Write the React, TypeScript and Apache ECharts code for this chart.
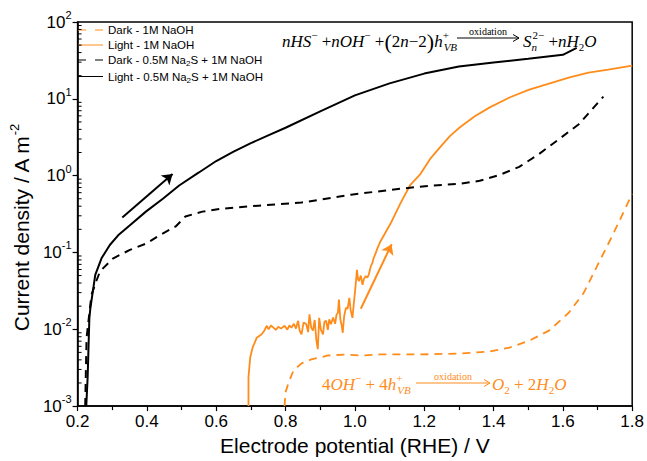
import React, { useEffect, useRef } from "react";
import * as echarts from "echarts";

const ORANGE = "#ff8c1a";

const seriesNames = [
  "Dark - 1M NaOH",
  "Light - 1M NaOH",
  "Dark - 0.5M Na2S + 1M NaOH",
  "Light - 0.5M Na2S + 1M NaOH",
];

const darkNaOH: [number, number][] = [
  [0.797, 0.001], [0.8, 0.00152], [0.809, 0.00204], [0.823, 0.00292], [0.846, 0.0036],
  [0.874, 0.00405], [0.923, 0.00456], [0.974, 0.0047], [1.017, 0.00456], [1.074, 0.0047],
  [1.189, 0.0047], [1.303, 0.00484], [1.389, 0.00514], [1.446, 0.00578], [1.503, 0.0071],
  [1.56, 0.0096], [1.617, 0.0164], [1.66, 0.0297], [1.703, 0.0725], [1.746, 0.177], [1.8, 0.58],
];

const lightNaOH: [number, number][] = [
  [0.693, 0.001], [0.693, 0.00237], [0.698, 0.0043], [0.705, 0.00578], [0.717, 0.00778],
  [0.731, 0.0086], [0.738, 0.0095], [0.746, 0.0111], [0.751, 0.00998], [0.758, 0.0112],
  [0.765, 0.0105], [0.772, 0.0098], [0.779, 0.0108], [0.787, 0.0102], [0.797, 0.0111],
  [0.805, 0.0099], [0.811, 0.0112], [0.817, 0.0105], [0.824, 0.0118], [0.83, 0.0102],
  [0.836, 0.0129], [0.841, 0.0095], [0.846, 0.0086], [0.852, 0.0123], [0.86, 0.0116],
  [0.865, 0.0092], [0.869, 0.0156], [0.874, 0.0105], [0.879, 0.0096], [0.884, 0.0132],
  [0.889, 0.0071], [0.893, 0.0055], [0.897, 0.0141], [0.902, 0.0098], [0.908, 0.0086],
  [0.912, 0.0125], [0.917, 0.0129], [0.922, 0.0098], [0.926, 0.0135], [0.931, 0.0116],
  [0.937, 0.0142], [0.943, 0.0118], [0.947, 0.0155], [0.951, 0.0164], [0.954, 0.0243],
  [0.958, 0.0135], [0.962, 0.0112], [0.965, 0.009], [0.969, 0.0148], [0.974, 0.019],
  [0.979, 0.0185], [0.984, 0.0256], [0.988, 0.0175], [0.993, 0.0141], [0.997, 0.022],
  [1.001, 0.033], [1.006, 0.0594], [1.009, 0.045], [1.012, 0.0425], [1.017, 0.05],
  [1.022, 0.038], [1.026, 0.045], [1.031, 0.0493], [1.036, 0.047], [1.04, 0.0513],
  [1.046, 0.0664], [1.05, 0.072], [1.054, 0.084], [1.06, 0.098], [1.065, 0.113],
  [1.074, 0.14], [1.103, 0.238], [1.131, 0.432], [1.16, 0.76], [1.189, 1.05],
  [1.217, 1.65], [1.246, 2.35], [1.274, 3.27], [1.303, 4.27], [1.346, 5.93],
  [1.389, 7.74], [1.446, 10.4], [1.503, 13.2], [1.56, 15.8], [1.617, 18.9],
  [1.674, 21.9], [1.731, 24], [1.8, 27],
];

const darkNa2S: [number, number][] = [
  [0.222, 0.001], [0.224, 0.003], [0.226, 0.0078], [0.24, 0.028], [0.254, 0.0425],
  [0.265, 0.057], [0.303, 0.084], [0.351, 0.108], [0.397, 0.13], [0.436, 0.167],
  [0.483, 0.218], [0.511, 0.294], [0.56, 0.34], [0.617, 0.372], [0.722, 0.407],
  [0.846, 0.446], [0.989, 0.565], [1.131, 0.676], [1.217, 0.738], [1.303, 0.783],
  [1.36, 0.857], [1.417, 1.02], [1.474, 1.3], [1.531, 1.91], [1.589, 2.99],
  [1.646, 4.67], [1.717, 10.7],
];

const lightNa2S: [number, number][] = [
  [0.225, 0.001], [0.229, 0.00237], [0.234, 0.0141], [0.237, 0.019], [0.251, 0.051],
  [0.269, 0.084], [0.293, 0.125], [0.317, 0.167], [0.351, 0.226], [0.397, 0.34],
  [0.446, 0.5], [0.493, 0.745], [0.55, 1.1], [0.6, 1.55], [0.65, 2.05], [0.7, 2.65],
  [0.75, 3.35], [0.8, 4.2], [0.9, 6.87], [1.0, 11.1], [1.1, 15.9], [1.2, 21.3], [1.3, 26.3],
  [1.4, 29.6], [1.5, 33.2], [1.6, 37.4], [1.64, 46],
];

// scan-direction arrows (data coordinates)
const blackArrow: [number, number][] = [[0.329, 0.285], [0.474, 1.05]];
const orangeArrow: [number, number][] = [[1.017, 0.0185], [1.106, 0.128]];

const xMin = 0.2;
const xMax = 1.8;
const xInterval = 0.2;
const yMin = 0.001;
const yMax = 100;
const decades = [0.001, 0.01, 0.1, 1, 10];
const minorMultipliers = [2, 3, 4, 5, 6, 7, 8, 9];

const SANS = "Liberation Sans";
const SERIF = "Liberation Serif";

const DASH_ICON = "path://M0,0H8V1H0ZM17,0H25V1H17Z";
const SOLID_ICON = "path://M0,0H25V1H0Z";

function eqRich(color: string) {
  return {
    i: { fontFamily: SERIF, fontStyle: "italic", fontSize: 17, fill: color, align: "left" },
    r: { fontFamily: SERIF, fontSize: 17, fill: color, align: "left" },
    p: { fontFamily: SERIF, fontSize: 22, fill: color, align: "left" },
    sp: { fontFamily: SERIF, fontSize: 11, fill: color, padding: [0, 0, 13, 0], align: "left" },
    spw: { fontFamily: SERIF, fontSize: 11, fill: color, padding: [0, 0, 13, 0], width: 1, align: "left" },
    sb: { fontFamily: SERIF, fontStyle: "italic", fontSize: 11, fill: color, padding: [12, 0, 0, 0], align: "left" },
    sbw: { fontFamily: SERIF, fontStyle: "italic", fontSize: 11, fill: color, padding: [12, 0, 0, 0], width: 1, align: "left" },
    sbr: { fontFamily: SERIF, fontSize: 11, fill: color, padding: [12, 0, 0, 0], align: "left" },
  };
}

function arrowGraphic(x1: number, x2: number, y: number, color: string, labelY: number) {
  return [
    { type: "line", shape: { x1, y1: y, x2, y2: y }, style: { stroke: color, lineWidth: 1 } },
    {
      type: "polyline",
      shape: { points: [[x2 - 6, y - 3.5], [x2, y], [x2 - 6, y + 3.5]] },
      style: { stroke: color, lineWidth: 1, fill: "none" },
    },
    {
      type: "text",
      x: (x1 + x2) / 2,
      y: labelY,
      style: { text: "oxidation", fill: color, font: `10px "${SERIF}"`, align: "center", verticalAlign: "middle" },
    },
  ];
}

export default function App() {
  const ref = useRef<HTMLDivElement>(null);
  useEffect(() => {
    if (!ref.current) return;
    const chart = echarts.init(ref.current, undefined, { renderer: "svg" });

    const minorTicks: [number, number][] = [];
    decades.forEach((d) => minorMultipliers.forEach((m) => minorTicks.push([xMin, d * m])));

    const lineSeries = (name: string, data: [number, number][], color: string, dashed: boolean, width: number) => ({
      name,
      type: "line",
      data,
      symbol: "none",
      showSymbol: false,
      lineStyle: { color, width, type: dashed ? [8, 6] : "solid" },
      itemStyle: { color },
      z: 3,
    });

    const topRich = eqRich("#000");
    const botRich = eqRich(ORANGE);

    const option: any = {
      animation: false,
      backgroundColor: "#fff",
      grid: {
        left: 74, right: 13, top: 22, bottom: 52,
        show: true, borderColor: "#000", borderWidth: 1.5, backgroundColor: "transparent",
      },
      legend: {
        data: [
          { name: seriesNames[0], icon: DASH_ICON },
          { name: seriesNames[1], icon: SOLID_ICON },
          { name: seriesNames[2], icon: DASH_ICON },
          { name: seriesNames[3], icon: SOLID_ICON },
        ],
        orient: "vertical",
        left: 78,
        top: 24,
        padding: 0,
        itemWidth: 25,
        itemHeight: 2,
        itemGap: 3,
        selectedMode: false,
        itemStyle: { borderWidth: 0 },
        lineStyle: { width: 0 },
        textStyle: {
          fontFamily: SANS, fontSize: 11.5, color: "#000", padding: [0, 0, 0, 0],
          rich: { sub: { fontFamily: SANS, fontSize: 8, color: "#000", padding: [7, 0, 0, 0] } },
        },
        formatter: (name: string) => name.replace("Na2S", "Na{sub|2}S"),
      },
      xAxis: {
        type: "value",
        min: xMin,
        max: xMax,
        interval: xInterval,
        name: "Electrode potential (RHE) / V",
        nameLocation: "middle",
        nameGap: 26,
        nameTextStyle: { fontFamily: SANS, fontSize: 21, color: "#000" },
        axisLine: { show: true, lineStyle: { color: "#000", width: 1.5 } },
        axisTick: { show: true, length: 5, lineStyle: { color: "#000", width: 1.2 } },
        minorTick: { show: true, splitNumber: 2, length: 4, lineStyle: { color: "#000", width: 1.2 } },
        splitLine: { show: false },
        axisLabel: {
          fontFamily: SANS, fontSize: 17, color: "#000", margin: 7,
          formatter: (v: number) => v.toFixed(1),
        },
      },
      yAxis: {
        type: "log",
        logBase: 10,
        min: yMin,
        max: yMax,
        name: "{n|Current density / A m}{s|-2}",
        nameLocation: "middle",
        nameGap: 27,
        nameRotate: 90,
        nameTextStyle: {
          padding: [0, 28, 0, 0],
          rich: {
            n: { fontFamily: SANS, fontSize: 21, color: "#000" },
            s: { fontFamily: SANS, fontSize: 13, color: "#000", padding: [0, 0, 14, 0] },
          },
        },
        axisLine: { show: true, lineStyle: { color: "#000", width: 1.5 } },
        axisTick: { show: true, length: 5, lineStyle: { color: "#000", width: 1.2 } },
        splitLine: { show: false },
        axisLabel: {
          margin: 6,
          formatter: (v: number) => `{b|10}{s|${Math.round(Math.log10(v))}}`,
          rich: {
            b: { fontFamily: SANS, fontSize: 17, color: "#000" },
            s: { fontFamily: SANS, fontSize: 11, color: "#000", padding: [0, 0, 14, 0] },
          },
        },
      },
      series: [
        lineSeries(seriesNames[0], darkNaOH, ORANGE, true, 1.8),
        lineSeries(seriesNames[1], lightNaOH, ORANGE, false, 1.8),
        lineSeries(seriesNames[2], darkNa2S, "#000", true, 2),
        lineSeries(seriesNames[3], lightNa2S, "#000", false, 2),
        {
          type: "lines",
          coordinateSystem: "cartesian2d",
          symbol: ["none", "arrow"],
          symbolSize: 10,
          silent: true,
          data: [
            { coords: blackArrow, lineStyle: { color: "#000", width: 2, opacity: 1 } },
            { coords: orangeArrow, lineStyle: { color: ORANGE, width: 2, opacity: 1 } },
          ],
          lineStyle: { opacity: 1 },
          z: 4,
        },
        {
          type: "custom",
          silent: true,
          clip: false,
          data: minorTicks,
          renderItem: (_p: any, api: any) => {
            const p = api.coord([api.value(0), api.value(1)]);
            return {
              type: "line",
              shape: { x1: p[0], y1: p[1], x2: p[0] + 4, y2: p[1] },
              style: { stroke: "#000", lineWidth: 1 },
            };
          },
          z: 5,
        },
      ],
      graphic: [
        {
          type: "text",
          x: 282,
          y: 41,
          style: {
            text: "{i|nHS}{sp|−}{r| +}{i|nOH}{sp|−}{r| +}{p|(}{r|2}{i|n}{r|−2}{p|)}{i|h}{spw|+}{sb|VB}",
            rich: topRich,
            align: "left",
            verticalAlign: "middle",
          },
        },
        ...arrowGraphic(457, 519, 38, "#000", 31),
        {
          type: "text",
          x: 523,
          y: 41,
          style: {
            text: "{i|S}{sbw|n}{sp|2−}{r| +}{i|nH}{sbr|2}{i|O}",
            rich: topRich,
            align: "left",
            verticalAlign: "middle",
          },
        },
        {
          type: "text",
          x: 322,
          y: 384,
          style: {
            text: "{r|4}{i|OH}{sp|−}{r| + 4}{i|h}{spw|+}{sb|VB}",
            rich: botRich,
            align: "left",
            verticalAlign: "middle",
          },
        },
        ...arrowGraphic(416, 490, 383, ORANGE, 376),
        {
          type: "text",
          x: 492,
          y: 384,
          style: {
            text: "{i|O}{sbr|2}{r| + 2}{i|H}{sbr|2}{i|O}",
            rich: botRich,
            align: "left",
            verticalAlign: "middle",
          },
        },
      ],
    };

    chart.setOption(option);
    return () => chart.dispose();
  }, []);

  return <div ref={ref} style={{ width: 647, height: 461, position: "absolute", left: 0, top: 0 }} />;
}
